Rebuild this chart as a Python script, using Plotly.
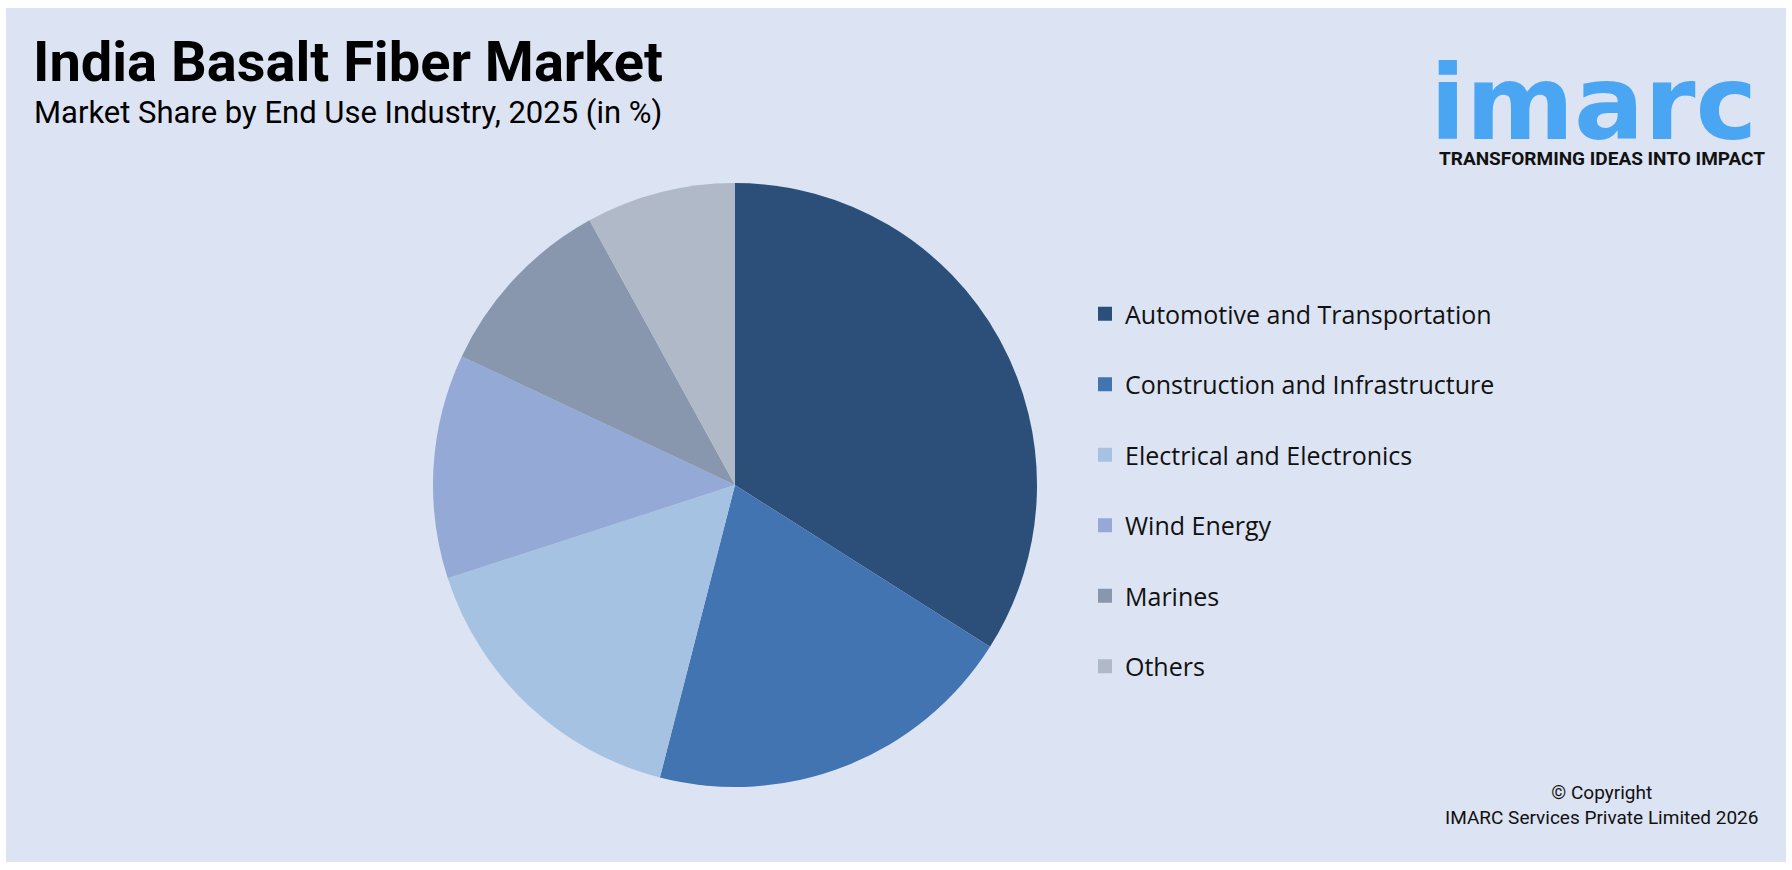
import plotly.graph_objects as go

W, H = 1792, 870

categories = [
    "Automotive and Transportation",
    "Construction and Infrastructure",
    "Electrical and Electronics",
    "Wind Energy",
    "Marines",
    "Others",
]
shares = [34, 20, 16, 12, 10, 8]
colors = ["#2C4F79", "#4174B0", "#A6C2E2", "#95A9D7", "#8897AE", "#AFB9C8"]

title_text = "India Basalt Fiber Market"
subtitle_text = "Market Share by End Use Industry, 2025 (in %)"


def px(x):
    return x / W


def py(y):
    return 1 - y / H


fig = go.Figure()

# Pie
cx, cy, r = 735, 485, 302
fig.add_trace(go.Pie(
    labels=categories,
    values=shares,
    marker=dict(colors=colors, line=dict(width=0)),
    sort=False,
    direction="clockwise",
    rotation=0,
    textinfo="none",
    hoverinfo="label+percent",
    showlegend=False,
    domain=dict(x=[px(cx - r), px(cx + r)], y=[py(cy + r), py(cy - r)]),
))

# Legend entries
for i, (cat, col) in enumerate(zip(categories, colors)):
    fig.add_trace(go.Scatter(
        x=[None], y=[None], mode="markers", name=cat,
        marker=dict(symbol="square", size=14, color=col),
        legendgroup=f"g{i}", showlegend=True, hoverinfo="skip",
    ))

font_main = "Roboto, 'Open Sans', sans-serif"

annotations = [
    dict(text=f"<b>{title_text}</b>", x=px(31), y=py(62), xanchor="left", yanchor="middle",
         font=dict(family=font_main, size=56, color="#000000")),
    dict(text=subtitle_text, x=px(32), y=py(112.5), xanchor="left", yanchor="middle",
         font=dict(family=font_main, size=31, color="#000000")),
    dict(text="<b>imarc</b>", x=px(1428), y=py(40), xanchor="left", yanchor="top",
         height=100, valign="top",
         font=dict(family="'DejaVu Sans', sans-serif", size=104, color="#4AA6F2")),
    dict(text="<b>TRANSFORMING IDEAS INTO IMPACT</b>", x=px(1602), y=py(158), xanchor="center", yanchor="middle",
         font=dict(family=font_main, size=19, color="#111111")),
    dict(text="© Copyright<br>IMARC Services Private Limited 2026", x=px(1601), y=py(805),
         xanchor="center", yanchor="middle", align="center",
         font=dict(family=font_main, size=19, color="#111111")),
]
for a in annotations:
    a.update(xref="paper", yref="paper", showarrow=False)

fig.update_layout(
    width=W, height=H,
    margin=dict(l=0, r=0, t=0, b=0),
    paper_bgcolor="#FFFFFF",
    plot_bgcolor="rgba(0,0,0,0)",
    xaxis=dict(visible=False),
    yaxis=dict(visible=False),
    shapes=[dict(type="rect", xref="paper", yref="paper", x0=px(6), x1=px(1786), y0=py(862), y1=py(8),
                 fillcolor="#DCE3F2", line=dict(width=0), layer="below")],
    annotations=annotations,
    legend=dict(
        x=px(1085), y=py(291), xanchor="left", yanchor="top",
        bgcolor="rgba(0,0,0,0)", borderwidth=0,
        font=dict(family="'Open Sans', Roboto, sans-serif", size=25, color="#111111"),
        tracegroupgap=35,
        itemclick=False, itemdoubleclick=False,
    ),
)

fig.write_html("out.html")
